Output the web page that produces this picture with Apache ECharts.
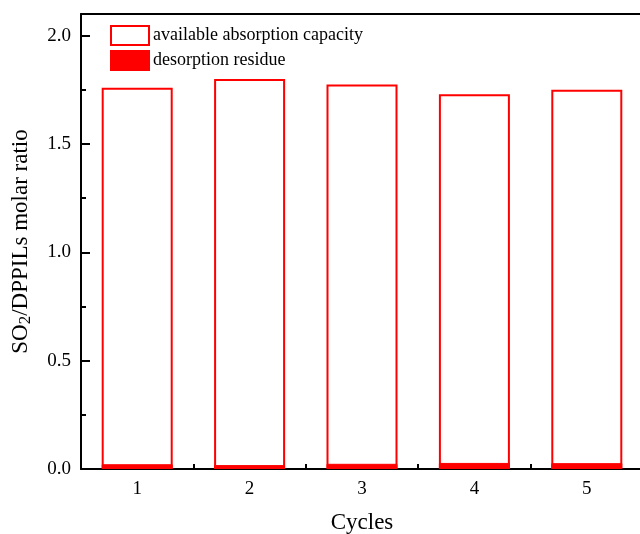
<!DOCTYPE html>
<html>
<head>
<meta charset="utf-8">
<script src="https://cdn.jsdelivr.net/npm/echarts@6/dist/echarts.min.js"></script>
<style>
  html, body { margin: 0; padding: 0; background: #fff; }
  #chart { width: 640px; height: 534px; }
</style>
</head>
<body>
<div id="chart"></div>
<script>
// Absorption / desorption cycles
const cycles = ['1', '2', '3', '4', '5'];
const totalCapacity = [1.76, 1.80, 1.775, 1.73, 1.75];
const desorptionResidue = [0.022, 0.018, 0.024, 0.028, 0.027];
const yTicks = [0, 0.5, 1.0, 1.5, 2.0];

const serif = '"Liberation Serif", "Times New Roman", serif';
const red = '#ff0000';

const chart = echarts.init(document.getElementById('chart'), null, { renderer: 'canvas' });

chart.setOption({
  backgroundColor: '#ffffff',
  animation: false,
  textStyle: { fontFamily: serif },
  grid: {
    left: 81, top: 14, width: 562, height: 455,
    containLabel: false,
    outerBoundsMode: 'none',
    show: false
  },
  legend: {
    orient: 'vertical',
    left: 110, top: 25,
    padding: 0,
    icon: 'rect',
    itemWidth: 38, itemHeight: 19, itemGap: 4,
    textStyle: { fontFamily: serif, fontSize: 18, color: '#000', padding: [0, 0, 0, -1] },
    data: ['available absorption capacity', 'desorption residue']
  },
  xAxis: [
    {
      type: 'category',
      data: cycles,
      boundaryGap: true,
      name: 'Cycles',
      nameLocation: 'middle',
      nameGap: 42,
      nameTextStyle: { fontFamily: serif, fontSize: 23, color: '#000' },
      axisLine: { lineStyle: { color: '#000', width: 2 } },
      axisTick: { show: true, inside: true, length: 5, lineStyle: { color: '#000', width: 2 } },
      axisLabel: { fontFamily: serif, fontSize: 19, color: '#000', margin: 11 },
      splitLine: { show: false }
    },
    {
      // top frame line
      type: 'category',
      data: cycles,
      position: 'top',
      axisLine: { show: true, lineStyle: { color: '#000', width: 2 } },
      axisTick: { show: false },
      axisLabel: { show: false },
      splitLine: { show: false }
    }
  ],
  yAxis: {
    type: 'value',
    min: 0, max: 2.1, interval: 0.5,
    name: 'SO{sub|2}/DPPILs molar ratio',
    nameLocation: 'middle',
    nameGap: 47,
    nameRotate: 90,
    nameTextStyle: {
      fontFamily: serif, fontSize: 23, color: '#000',
      rich: {
        sub: { fontFamily: serif, fontSize: 17, color: '#000', verticalAlign: 'bottom', padding: [10, 0, 0, 0] }
      }
    },
    axisLine: { show: true, lineStyle: { color: '#000', width: 2 } },
    axisTick: { show: true, inside: true, length: 9, lineStyle: { color: '#000', width: 2 } },
    minorTick: { show: true, splitNumber: 2, length: 5, lineStyle: { color: '#000', width: 2 } },
    axisLabel: {
      fontFamily: serif, fontSize: 19, color: '#000', margin: 10,
      formatter: v => (yTicks.some(t => Math.abs(t - v) < 1e-9) ? v.toFixed(1) : '')
    },
    splitLine: { show: false },
    minorSplitLine: { show: false }
  },
  series: [
    {
      name: 'available absorption capacity',
      type: 'bar',
      data: totalCapacity,
      barWidth: 71,
      itemStyle: { color: '#ffffff', borderColor: red, borderWidth: 2 },
      z: 2
    },
    {
      name: 'desorption residue',
      type: 'bar',
      data: desorptionResidue,
      barWidth: 71,
      barGap: '-100%',
      itemStyle: { color: red, borderColor: red, borderWidth: 1 },
      z: 3
    }
  ]
});
</script>
</body>
</html>
